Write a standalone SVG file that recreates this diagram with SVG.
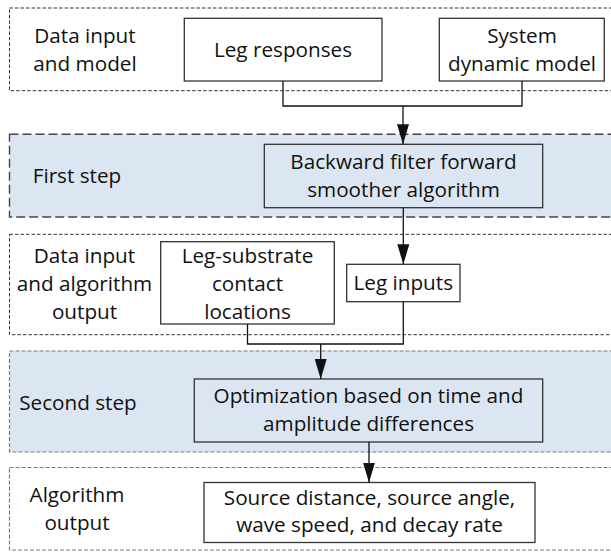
<svg xmlns="http://www.w3.org/2000/svg" width="611" height="553" viewBox="0 0 611 553">
<style>
text{font-family:"Open Sans","Liberation Sans",sans-serif;font-size:20.7px;fill:#111;text-anchor:middle}
.band{fill:none;stroke:#333;stroke-width:1;stroke-dasharray:3.5 2}
.bandg{fill:none;stroke:#7a7a7a;stroke-width:1.2;stroke-dasharray:4 2}
.bandb{fill:#dce6f2;stroke:#444;stroke-width:1.4;stroke-dasharray:9 4}
.bandb2{fill:#dce6f2;stroke:#7a7a7a;stroke-width:1.2;stroke-dasharray:4 2}
.box{fill:#fff;stroke:#333;stroke-width:1.3}
.boxb{fill:#dce6f2;stroke:#333;stroke-width:1.3}
.conn{fill:none;stroke:#111;stroke-width:1.3}
</style>
<defs>
<marker id="arr" markerUnits="userSpaceOnUse" markerWidth="20" markerHeight="12" refX="20" refY="6" orient="auto" viewBox="0 0 20 12">
<path d="M0,0 L20,6 L0,12 z" fill="#111"/>
</marker>
</defs>
<g id="band1">
<rect class="band" x="9.5" y="8" width="610" height="82.7"/>
<text x="85" y="43">Data input</text>
<text x="85" y="71">and model</text>
</g>
<g id="band2">
<rect class="bandb" x="9.5" y="134.3" width="610" height="82.7"/>
<text x="77" y="183">First step</text>
</g>
<g id="band3">
<rect class="band" x="9.5" y="234.3" width="610" height="100.4"/>
<text x="84.5" y="263">Data input</text>
<text x="84.5" y="291">and algorithm</text>
<text x="84.5" y="319">output</text>
</g>
<g id="band4">
<rect class="bandb2" x="9.5" y="351" width="610" height="101"/>
<text x="78" y="410">Second step</text>
</g>
<g id="band5">
<rect class="bandg" x="9.5" y="467.5" width="610" height="82.5"/>
<text x="77" y="502">Algorithm</text>
<text x="77" y="530">output</text>
</g>
<g id="leg-responses">
<rect class="box" x="184.3" y="18.3" width="197.7" height="62.7"/>
<text x="283" y="57">Leg responses</text>
</g>
<g id="system-model">
<rect class="box" x="439.3" y="18.3" width="165" height="62.7"/>
<text x="522" y="43">System</text>
<text x="522" y="71">dynamic model</text>
</g>
<g id="bffs">
<rect class="boxb" x="264.3" y="144.3" width="278.4" height="63.4"/>
<text x="403.5" y="169">Backward filter forward</text>
<text x="403.5" y="197">smoother algorithm</text>
</g>
<g id="leg-substrate">
<rect class="box" x="160.7" y="241.7" width="173.6" height="82.3"/>
<text x="247.5" y="263">Leg-substrate</text>
<text x="247.5" y="291">contact</text>
<text x="247.5" y="319">locations</text>
</g>
<g id="leg-inputs">
<rect class="box" x="346.7" y="264.3" width="113.3" height="37.4"/>
<text x="403.3" y="290">Leg inputs</text>
</g>
<g id="optimization">
<rect class="boxb" x="194.3" y="379" width="348.4" height="63"/>
<text x="368.5" y="403">Optimization based on time and</text>
<text x="368.5" y="431">amplitude differences</text>
</g>
<g id="output">
<rect class="box" x="204" y="482.5" width="331" height="60"/>
<text x="369.5" y="505">Source distance, source angle,</text>
<text x="369.5" y="532">wave speed, and decay rate</text>
</g>
<g id="connectors">
<polyline class="conn" points="283,81 283,106 522,106 522,81"/>
<line class="conn" x1="403" y1="106" x2="403" y2="144.3" marker-end="url(#arr)"/>
<line class="conn" x1="403.3" y1="207.7" x2="403.3" y2="264.3" marker-end="url(#arr)"/>
<polyline class="conn" points="247.5,324 247.5,344 403.3,344 403.3,301.7"/>
<line class="conn" x1="320.7" y1="344" x2="320.7" y2="379" marker-end="url(#arr)"/>
<line class="conn" x1="369" y1="442" x2="369" y2="482.5" marker-end="url(#arr)"/>
</g>
</svg>
